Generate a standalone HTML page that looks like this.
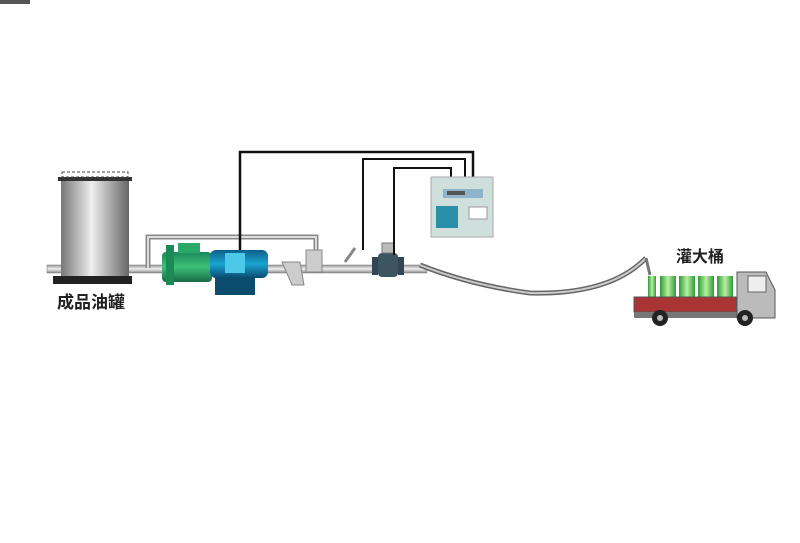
<!DOCTYPE html>
<html><head><meta charset="utf-8"><style>
body{margin:0;background:#fff;}
svg{display:block}
text{font-family:"Liberation Sans","Noto Sans CJK SC",sans-serif;font-weight:bold;fill:#222}
</style></head><body>
<svg width="800" height="543" viewBox="0 0 800 543">
<defs>
<linearGradient id="tank" x1="0" x2="1"><stop offset="0" stop-color="#777"/><stop offset=".45" stop-color="#eee"/><stop offset="1" stop-color="#666"/></linearGradient>
<linearGradient id="pipe" x1="0" y1="0" x2="0" y2="1"><stop offset="0" stop-color="#999"/><stop offset=".5" stop-color="#eee"/><stop offset="1" stop-color="#888"/></linearGradient>
<linearGradient id="grn" x1="0" y1="0" x2="0" y2="1"><stop offset="0" stop-color="#1a8a5a"/><stop offset=".5" stop-color="#3fc07a"/><stop offset="1" stop-color="#146a45"/></linearGradient>
<linearGradient id="blu" x1="0" y1="0" x2="0" y2="1"><stop offset="0" stop-color="#0d5e8a"/><stop offset=".5" stop-color="#1aa4d0"/><stop offset="1" stop-color="#0a4a70"/></linearGradient>
<linearGradient id="drum" x1="0" x2="1"><stop offset="0" stop-color="#2f9a3a"/><stop offset=".5" stop-color="#b8f0a0"/><stop offset="1" stop-color="#2f9a3a"/></linearGradient>
</defs>
<rect x="0" y="0" width="30" height="4" fill="#555"/>
<!-- main pipe -->
<rect x="47" y="265" width="380" height="8" fill="url(#pipe)" stroke="#777" stroke-width=".5"/>
<!-- bypass -->
<path d="M148 268 V237 H316 V252" fill="none" stroke="#888" stroke-width="5"/>
<path d="M148 268 V237 H316 V252" fill="none" stroke="#ddd" stroke-width="2"/>
<!-- tank -->
<rect x="61" y="180" width="68" height="96" fill="url(#tank)"/>
<rect x="58" y="177" width="74" height="4" fill="#333"/>
<rect x="62" y="172" width="66" height="5" fill="#fff" stroke="#444" stroke-dasharray="3 2"/>
<rect x="53" y="276" width="79" height="8" fill="#222"/>
<text x="57" y="308" font-size="17">成品油罐</text>
<!-- pump -->
<rect x="162" y="252" width="50" height="30" rx="4" fill="url(#grn)"/>
<rect x="166" y="245" width="8" height="40" fill="#1c8a55"/>
<rect x="178" y="243" width="22" height="10" fill="#2aa868"/>
<rect x="210" y="250" width="58" height="28" rx="6" fill="url(#blu)"/>
<rect x="225" y="253" width="20" height="20" fill="#4cc8e8"/>
<rect x="215" y="278" width="40" height="17" fill="#0c4d6e"/>
<!-- strainer/valves -->
<path d="M282 262 L300 262 L304 285 L292 285 Z" fill="#ccc" stroke="#888"/>
<rect x="306" y="250" width="16" height="22" fill="#ccc" stroke="#888"/>
<path d="M345 262 L355 248" stroke="#888" stroke-width="3"/>
<rect x="372" y="257" width="6" height="18" fill="#345"/>
<rect x="398" y="257" width="6" height="18" fill="#345"/>
<rect x="378" y="253" width="20" height="24" rx="4" fill="#3d5560"/>
<rect x="382" y="243" width="12" height="10" fill="#bbb" stroke="#777"/>
<!-- wires -->
<path d="M240 250 V152 H473 V177" fill="none" stroke="#111" stroke-width="2.5"/>
<path d="M363 250 V159 H465 V177" fill="none" stroke="#111" stroke-width="2"/>
<path d="M394 255 V168 H451 V177" fill="none" stroke="#111" stroke-width="2"/>
<!-- meter -->
<rect x="431" y="177" width="62" height="60" fill="#cfe0dc" stroke="#aaa"/>
<rect x="443" y="189" width="40" height="9" fill="#8fb3c8"/>
<rect x="447" y="191" width="18" height="4" fill="#555"/>
<rect x="436" y="206" width="22" height="22" fill="#2a8fa8"/>
<rect x="469" y="207" width="18" height="12" fill="#fff" stroke="#999"/>
<!-- hose -->
<path d="M420 265 Q470 285 530 293 Q610 295 646 258" fill="none" stroke="#666" stroke-width="5"/>
<path d="M420 265 Q470 285 530 293 Q610 295 646 258" fill="none" stroke="#ccc" stroke-width="2"/>
<path d="M646 258 L650 275" stroke="#777" stroke-width="3"/>
<text x="676" y="262" font-size="16">灌大桶</text>
<!-- truck -->
<g>
<rect x="648" y="276" width="8" height="22" fill="url(#drum)"/><rect x="660" y="276" width="16" height="22" fill="url(#drum)"/><rect x="679" y="276" width="16" height="22" fill="url(#drum)"/><rect x="698" y="276" width="16" height="22" fill="url(#drum)"/><rect x="717" y="276" width="16" height="22" fill="url(#drum)"/>
<rect x="634" y="297" width="102" height="15" fill="#a33" stroke="#555"/>
<rect x="634" y="312" width="120" height="6" fill="#777"/>
<path d="M737 272 H766 L775 290 V318 H737 Z" fill="#bbb" stroke="#555"/>
<rect x="748" y="276" width="18" height="16" fill="#eee" stroke="#666"/>
<circle cx="660" cy="318" r="8" fill="#222"/><circle cx="660" cy="318" r="3" fill="#bbb"/>
<circle cx="745" cy="318" r="8" fill="#222"/><circle cx="745" cy="318" r="3" fill="#bbb"/>
</g>
</svg>
</body></html>
